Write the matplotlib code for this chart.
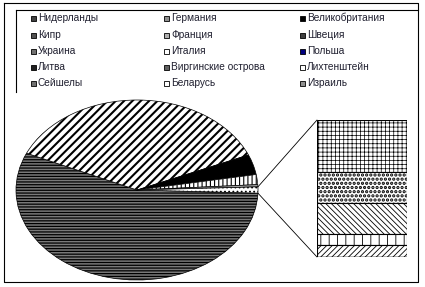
import matplotlib
matplotlib.use('Agg')
import matplotlib.pyplot as plt
from matplotlib.patches import Rectangle, ConnectionPatch
from matplotlib.lines import Line2D
import numpy as np

plt.rcParams['font.family'] = ['Liberation Sans', 'DejaVu Sans']
plt.rcParams['hatch.linewidth'] = 0.8

# основные страны (круг) и прочие (столбик), доля, %
pie_labels = ['Нидерланды', 'Германия', 'Великобритания', 'Кипр', 'Франция']
pie_values = [56.1, 36.9, 3.6, 1.8, 0.4]
bar_labels = ['Швеция', 'Украина', 'Италия', 'Польша', 'Литва',
              'Виргинские острова', 'Лихтенштейн', 'Сейшелы', 'Беларусь', 'Израиль']
bar_values = [0.42, 0.25, 0.25, 0.09, 0.10, 0.0, 0.0, 0.0, 0.0, 0.0]

legend_labels = pie_labels + bar_labels

# узоры: (цвет, штриховка, толщина штриховки)
pie_style = [('#7a7a7a', '------', 0.9), ('white', '////', 1.5), ('black', None, 0.8),
             ('white', '||||', 0.8), ('#a0a0a0', None, 0.8), ('white', '....', 0.8)]
bar_style = [('white', '++++', 0.5), ('white', '....', 1.6), ('white', '\\\\\\\\\\\\', 0.6),
             ('white', '||', 0.6), ('white', '//////', 0.6)] + [('white', None, 0.8)] * 5
legend_faces = ['#404040', '#909090', 'black', '#505050', '#b0b0b0',
                '#404040', '#707070', 'white', '#000080', '#202020',
                '#606060', 'white', '#707070', 'white', '#909090']

fig = plt.figure(figsize=(4.25, 2.87), dpi=100)
W, H = 425, 287


def fx(x):
    return x / W


def fy(y):
    return 1 - y / H


def style(p, fc, h, hlw):
    p.set_facecolor(fc)
    if h:
        p.set_hatch(h)
        if hasattr(p, 'set_hatch_linewidth'):
            p.set_hatch_linewidth(hlw)


# рамки
for xs, ys in [([4, 418, 418, 4, 4], [3, 3, 282, 282, 3]),
               ([16, 418], [10, 10]), ([16, 16], [10, 92])]:
    fig.add_artist(Line2D([fx(x) for x in xs], [fy(y) for y in ys],
                          color='black', lw=0.8, transform=fig.transFigure))

# круг
ax = fig.add_axes([fx(16), fy(280), 242 / W, 180 / H])
values = pie_values + [sum(bar_values)]
start = -values[-1] / sum(values) * 180
wedges, _ = ax.pie(values, startangle=start, counterclock=False, radius=1,
                   wedgeprops=dict(linewidth=0.5, edgecolor='black'))
for w, (fc, h, hlw) in zip(wedges, pie_style):
    style(w, fc, h, hlw)
ax.set_aspect('auto')
ax.set_xlim(-1, 1)
ax.set_ylim(-1, 1)
ax.axis('off')

# столбик прочих
ax2 = fig.add_axes([fx(317), fy(257), 90 / W, 137 / H])
total = sum(bar_values)
top = total
for v, (fc, h, hlw) in zip(bar_values, bar_style):
    bars = ax2.bar(0.5, v, bottom=top - v, width=1, edgecolor='black', linewidth=0.8)
    style(bars[0], fc, h, hlw)
    top -= v
ax2.set_xlim(0, 1)
ax2.set_ylim(0, total)
ax2.axis('off')

# линии от сектора «прочие» к столбику
other = wedges[-1]
for ang, yb in [(other.theta2, total), (other.theta1, 0)]:
    t = np.radians(ang)
    con = ConnectionPatch(xyA=(np.cos(t), np.sin(t)), coordsA=ax.transData,
                          xyB=(0, yb), coordsB=ax2.transData,
                          color='black', lw=0.6)
    fig.add_artist(con)

# легенда
col_x = [33, 166, 302]
row_y = [18, 35, 51, 67, 83]
for i, (lab, fc) in enumerate(zip(legend_labels, legend_faces)):
    cx = col_x[i % 3]
    cy = row_y[i // 3]
    fig.add_artist(Rectangle((fx(cx - 2.5), fy(cy + 2.5)), 5 / W, 5 / H,
                             facecolor=fc, edgecolor='black', lw=0.6,
                             transform=fig.transFigure))
    fig.text(fx(cx + 5), fy(cy), lab, fontsize=7.3, color='#202030',
             va='center', ha='left')

fig.savefig('out.png', dpi=100, facecolor='white')
